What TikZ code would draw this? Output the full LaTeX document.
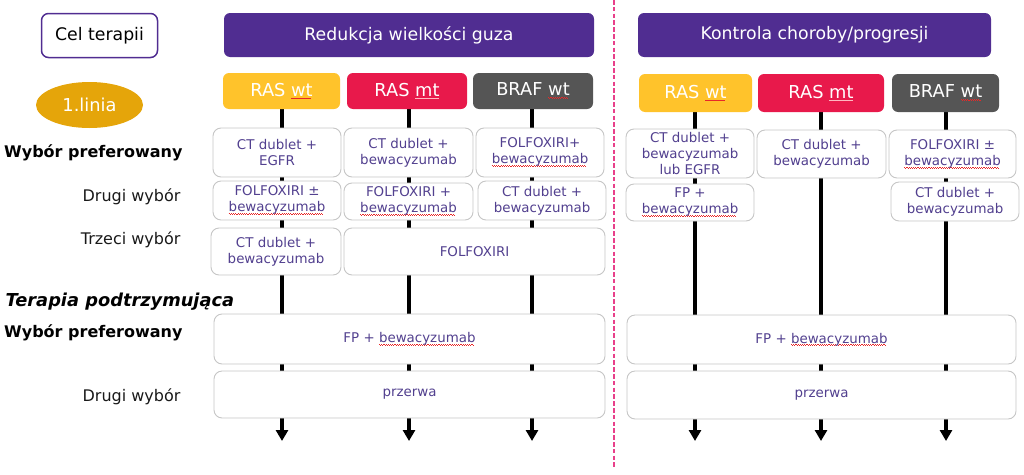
\documentclass[tikz,border=0pt]{standalone}
\usepackage{fontspec}
\setmainfont{DejaVu Sans}
\usetikzlibrary{arrows.meta,shapes.geometric}
\definecolor{hdrpurple}{HTML}{502D91}
\definecolor{rasyellow}{HTML}{FFC32B}
\definecolor{rascrimson}{HTML}{E8194B}
\definecolor{brafgray}{HTML}{555555}
\definecolor{lingold}{HTML}{E5A50A}
\definecolor{boxtext}{HTML}{52408F}
\definecolor{boxborder}{HTML}{C6C6C6}
\definecolor{divpink}{HTML}{E8408A}
\definecolor{spellred}{HTML}{E82828}
\definecolor{spelllight}{HTML}{FFB8C0}
\newsavebox\splbox
\newcommand\spl[2][spellred]{\sbox\splbox{#2}\rlap{\textcolor{#1}{\leaders\hbox{\rule[-2.2pt]{1.1pt}{0.8pt}\rule[-3.0pt]{1.1pt}{0.8pt}}\hskip\wd\splbox}}\usebox\splbox}
\pgfdeclarelayer{bg}
\pgfsetlayers{bg,main}
\tikzset{
  tbox/.style={draw=boxborder, line width=0.9pt, fill=white, rounded corners=8pt, align=center,
    text=boxtext, font=\fontsize{13.4}{16}\selectfont, inner sep=1pt},
  header/.style={fill=hdrpurple, rounded corners=6pt, text=white, font=\fontsize{17.3}{20}\selectfont,
    minimum height=44pt},
  marker/.style={rounded corners=6pt, text=white, font=\fontsize{17.8}{20}\selectfont},
  rowlabel/.style={anchor=east, font=\fontsize{16}{18}\selectfont, text=black!90},
  rowlabelb/.style={anchor=east, font=\fontsize{16}{18}\selectfont\bfseries, text=black},
  flow/.style={line width=3.6pt, -{Triangle[length=11pt,width=12pt]}},
}
\begin{document}
\begin{tikzpicture}[x=1pt,y=-1pt]
\useasboundingbox (0,0) rectangle (1024,474);

% left column titles
\node[draw=hdrpurple, line width=1.5pt, fill=white, rounded corners=7pt, minimum width=116pt,
  minimum height=44pt, font=\fontsize{17.3}{20}\selectfont] (cel) at (99.5,35.5) {Cel terapii};
\node[ellipse, fill=lingold, minimum width=107pt, minimum height=46pt, inner sep=0pt, text=white,
  font=\fontsize{17.8}{20}\selectfont] (linia) at (89.5,105) {1.linia};

% headers
\node[header, minimum width=370pt] (hL) at (409,35) {Redukcja wielkości guza};
\node[header, minimum width=353pt] (hR) at (814.5,35) {Kontrola choroby/progresji};

% markers left
\node[marker, fill=rasyellow, minimum width=117pt, minimum height=36pt] (mL1) at (281.5,91) {RAS \spl{wt}};
\node[marker, fill=rascrimson, minimum width=120pt, minimum height=36pt] (mL2) at (407,91) {RAS \spl[spelllight]{mt}};
\node[marker, fill=brafgray, minimum width=120pt, minimum height=36pt] (mL3) at (533,91) {BRAF \spl{wt}};
% markers right
\node[marker, fill=rasyellow, minimum width=113pt, minimum height=38pt] (mR1) at (695.5,93) {RAS \spl{wt}};
\node[marker, fill=rascrimson, minimum width=126pt, minimum height=38pt] (mR2) at (821,93) {RAS \spl[spelllight]{mt}};
\node[marker, fill=brafgray, minimum width=107pt, minimum height=38pt] (mR3) at (945.5,93) {BRAF \spl{wt}};

% row labels
\node[rowlabelb] (lab1) at (186,153) {Wybór preferowany};
\node[rowlabel] (lab2) at (184,197) {Drugi wybór};
\node[rowlabel] (lab3) at (184,240) {Trzeci wybór};
\node[anchor=west, font=\fontsize{17.8}{20}\selectfont\bfseries\itshape] (lab4) at (2,302) {Terapia podtrzymująca};
\node[rowlabelb] (lab5) at (186,333) {Wybór preferowany};
\node[rowlabel] (lab6) at (184,397) {Drugi wybór};

% left boxes
\node[tbox, minimum width=128pt, minimum height=49pt] (l11) at (277,152.5) {CT dublet +\\EGFR};
\node[tbox, minimum width=129pt, minimum height=49pt] (l12) at (408.5,152.5) {CT dublet +\\bewacyzumab};
\node[tbox, minimum width=128pt, minimum height=49pt] (l13) at (540,152.5) {FOLFOXIRI+\\\spl{bewacyzumab}};
\node[tbox, minimum width=128pt, minimum height=39pt] (l21) at (277,200.5) {FOLFOXIRI ±\\\spl{bewacyzumab}};
\node[tbox, minimum width=129pt, minimum height=37pt] (l22) at (408.5,201.5) {FOLFOXIRI +\\\spl{bewacyzumab}};
\node[tbox, minimum width=128pt, minimum height=39pt] (l23) at (542,200.5) {CT dublet +\\bewacyzumab};
\node[tbox, minimum width=130pt, minimum height=47pt] (l31) at (276,251.5) {CT dublet +\\bewacyzumab};
\node[tbox, minimum width=261pt, minimum height=47pt] (l32) at (474.5,251.5) {FOLFOXIRI};
\node[tbox, minimum width=391pt, minimum height=50pt] (lm1) at (409.5,339) {FP + \spl{bewacyzumab}};
\node[tbox, minimum width=391pt, minimum height=47pt] (lm2) at (409.5,394.5) {przerwa};

% right boxes
\node[tbox, minimum width=128pt, minimum height=49pt] (r11) at (690,153.5) {CT dublet +\\bewacyzumab\\lub EGFR};
\node[tbox, minimum width=129pt, minimum height=48pt] (r12) at (821.5,154) {CT dublet +\\bewacyzumab};
\node[tbox, minimum width=127pt, minimum height=48pt] (r13) at (952.5,154) {FOLFOXIRI ±\\\spl{bewacyzumab}};
\node[tbox, minimum width=128pt, minimum height=37pt] (r21) at (690,202.5) {FP +\\\spl{bewacyzumab}};
\node[tbox, minimum width=128pt, minimum height=39pt] (r23) at (955,201.5) {CT dublet +\\bewacyzumab};
\node[tbox, minimum width=389pt, minimum height=49pt] (rm1) at (821.5,339.5) {FP + \spl{bewacyzumab}};
\node[tbox, minimum width=389pt, minimum height=48pt] (rm2) at (821.5,395) {przerwa};

% arrow ends
\coordinate (eL1) at (282,441);
\coordinate (eL2) at (409,441);
\coordinate (eL3) at (532,441);
\coordinate (eR1) at (695,441);
\coordinate (eR2) at (821,441);
\coordinate (eR3) at (946,441);

\begin{pgfonlayer}{bg}
\draw[flow] (mL1.south -| eL1) -- (eL1);
\draw[flow] (mL2.south -| eL2) -- (eL2);
\draw[flow] (mL3.south -| eL3) -- (eL3);
\draw[flow] (mR1.south -| eR1) -- (eR1);
\draw[flow] (mR2.south -| eR2) -- (eR2);
\draw[flow] (mR3.south -| eR3) -- (eR3);
\end{pgfonlayer}

% divider
\coordinate (dTop) at (614,0);
\coordinate (dBot) at (614,467);
\draw[divpink, line width=2.8pt, dash pattern=on 4.5pt off 2.3pt] (dTop) -- (dBot);
\end{tikzpicture}
\end{document}
